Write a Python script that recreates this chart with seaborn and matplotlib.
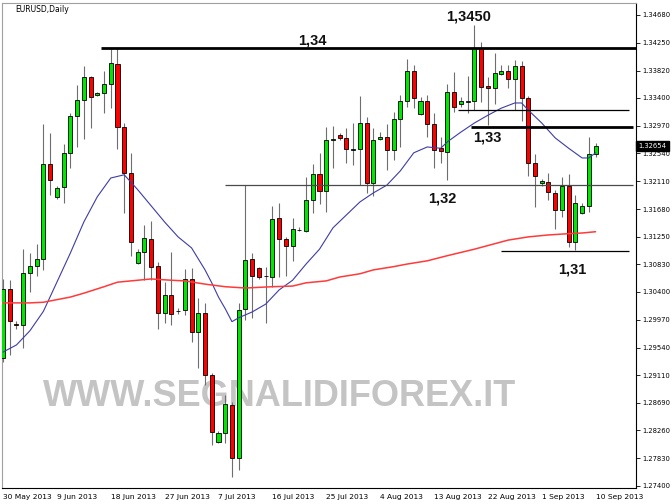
"""
EURUSD Daily candlestick chart, 30 May 2013 - 10 Sep 2013 (MT4 style)
"""
import numpy as np
import pandas as pd
import matplotlib
matplotlib.use('Agg')
import matplotlib.pyplot as plt
import matplotlib.transforms as mtransforms
import seaborn as sns

# Bars: MT4 daily with Sunday bars (no Saturdays)
dates = pd.bdate_range('2013-05-30', '2013-09-10', freq='C',
                       weekmask='Sun Mon Tue Wed Thu Fri')

opens = [1.2938, 1.3045, 1.2990, 1.2989, 1.3069, 1.3080, 1.3091, 1.3238, 1.3187, 1.3202,
         1.3255, 1.3312, 1.3337, 1.3372, 1.3344, 1.3347, 1.3361, 1.3392, 1.3295, 1.3224,
         1.3085, 1.3102, 1.3122, 1.3080, 1.3007, 1.3035, 1.3010, 1.3012, 1.3060, 1.2978,
         1.3007, 1.2912, 1.2808, 1.2822, 1.2865, 1.2783, 1.3014, 1.3091, 1.3077, 1.3064,
         1.3063, 1.3154, 1.3122, 1.3111, 1.3135, 1.3134, 1.3182, 1.3222, 1.3196, 1.3275,
         1.3283, 1.3278, 1.3260, 1.3261, 1.3301, 1.3208, 1.3276, 1.3279, 1.3259, 1.3307,
         1.3335, 1.3381, 1.3315, 1.3335, 1.3300, 1.3262, 1.3256, 1.3349, 1.3330, 1.3334,
         1.3335, 1.3417, 1.3358, 1.3355, 1.3377, 1.3381, 1.3369, 1.3389, 1.3340, 1.3239,
         1.3209, 1.3210, 1.3193, 1.3167, 1.3204, 1.3117, 1.3162, 1.3173, 1.3253]
highs = [1.3060, 1.3058, 1.2995, 1.3106, 1.3100, 1.3114, 1.3300, 1.3286, 1.3204, 1.3269,
         1.3317, 1.3360, 1.3389, 1.3374, 1.3349, 1.3381, 1.3417, 1.3417, 1.3301, 1.3255,
         1.3106, 1.3143, 1.3150, 1.3086, 1.3055, 1.3102, 1.3015, 1.3075, 1.3077, 1.3031,
         1.3023, 1.2915, 1.2825, 1.2881, 1.2870, 1.3023, 1.3205, 1.3100, 1.3079, 1.3079,
         1.3173, 1.3177, 1.3125, 1.3154, 1.3140, 1.3218, 1.3238, 1.3255, 1.3295, 1.3296,
         1.3286, 1.3293, 1.3301, 1.3343, 1.3310, 1.3293, 1.3287, 1.3300, 1.3318, 1.3344,
         1.3400, 1.3391, 1.3341, 1.3344, 1.3317, 1.3279, 1.3361, 1.3380, 1.3341, 1.3374,
         1.3453, 1.3426, 1.3372, 1.3409, 1.3391, 1.3391, 1.3398, 1.3397, 1.3342, 1.3253,
         1.3215, 1.3224, 1.3198, 1.3218, 1.3222, 1.3190, 1.3177, 1.3279, 1.3270]
lows = [1.2932, 1.2942, 1.2983, 1.2953, 1.3040, 1.3065, 1.3074, 1.3190, 1.3184, 1.3177,
        1.3232, 1.3264, 1.3276, 1.3293, 1.3343, 1.3317, 1.3324, 1.3261, 1.3162, 1.3096,
        1.3083, 1.3058, 1.3058, 1.2983, 1.2992, 1.2989, 1.3006, 1.3004, 1.2963, 1.2922,
        1.2896, 1.2803, 1.2806, 1.2806, 1.2754, 1.2765, 1.2997, 1.3000, 1.3060, 1.2992,
        1.3048, 1.3063, 1.3065, 1.3088, 1.3134, 1.3133, 1.3162, 1.3176, 1.3164, 1.3232,
        1.3275, 1.3239, 1.3236, 1.3205, 1.3193, 1.3188, 1.3275, 1.3228, 1.3244, 1.3264,
        1.3326, 1.3324, 1.3313, 1.3279, 1.3232, 1.3239, 1.3213, 1.3318, 1.3326, 1.3317,
        1.3321, 1.3334, 1.3298, 1.3330, 1.3375, 1.3355, 1.3321, 1.3304, 1.3219, 1.3171,
        1.3204, 1.3182, 1.3137, 1.3156, 1.3109, 1.3105, 1.3160, 1.3164, 1.3249]
closes = [1.3045, 1.2995, 1.2989, 1.3069, 1.3080, 1.3091, 1.3238, 1.3213, 1.3201, 1.3255,
          1.3312, 1.3337, 1.3372, 1.3341, 1.3347, 1.3361, 1.3394, 1.3295, 1.3224, 1.3117,
          1.3102, 1.3123, 1.3079, 1.3007, 1.3035, 1.3006, 1.3011, 1.3060, 1.2978, 1.3007,
          1.2912, 1.2823, 1.2822, 1.2867, 1.2783, 1.3012, 1.3089, 1.3065, 1.3063, 1.3065,
          1.3153, 1.3122, 1.3111, 1.3137, 1.3136, 1.3182, 1.3222, 1.3196, 1.3275, 1.3277,
          1.3278, 1.3261, 1.3261, 1.3301, 1.3208, 1.3275, 1.3279, 1.3259, 1.3307, 1.3335,
          1.3381, 1.3340, 1.3335, 1.3300, 1.3259, 1.3258, 1.3349, 1.3326, 1.3335, 1.3335,
          1.3417, 1.3357, 1.3355, 1.3378, 1.3381, 1.3369, 1.3389, 1.3340, 1.3239, 1.3219,
          1.3211, 1.3194, 1.3167, 1.3204, 1.3117, 1.3177, 1.3173, 1.3253, 1.32654]

# moving averages (bar index -> value)
ma_fast_bars = [0, 2, 4, 6, 8, 10, 12, 14, 16, 18, 20, 22, 24, 26, 28, 30, 31, 32, 33, 34,
                35, 37, 39, 41, 43, 45, 47, 49, 51, 53, 55, 57, 59, 61, 63, 65, 66, 68, 70, 72,
                74, 76, 77, 78, 80, 82, 84, 86, 87, 88]
ma_fast = [1.2947, 1.2958, 1.2980, 1.3010, 1.3055, 1.3100, 1.3148, 1.3187, 1.3216, 1.3221,
           1.3198, 1.3173, 1.3148, 1.3125, 1.3108, 1.3074, 1.3054, 1.3032, 1.3014, 1.2994,
           1.3000, 1.3009, 1.3021, 1.3043, 1.3058, 1.3083, 1.3106, 1.3139, 1.3159, 1.3179,
           1.3193, 1.3205, 1.3227, 1.3255, 1.3264, 1.3262, 1.3272, 1.3287, 1.3301, 1.3313,
           1.3324, 1.3332, 1.3332, 1.3321, 1.3301, 1.3278, 1.3262, 1.3247, 1.3247, 1.3255]
ma_slow_bars = [0, 4, 6, 10, 12, 15, 17, 20, 22, 25, 27, 30, 33, 36, 40, 43, 45, 48, 50, 53,
                55, 58, 60, 63, 66, 70, 75, 78, 81, 84, 86, 88]
ma_slow = [1.3023, 1.3023, 1.3024, 1.3032, 1.3038, 1.3048, 1.3055, 1.3058, 1.3060, 1.3058,
           1.3057, 1.3052, 1.3048, 1.3046, 1.3048, 1.3049, 1.3054, 1.3057, 1.3063, 1.3068,
           1.3074, 1.3079, 1.3083, 1.3088, 1.3096, 1.3106, 1.3120, 1.3125, 1.3128, 1.3130,
           1.3131, 1.3133]

# support / resistance lines drawn by hand on the chart
level_prices = [1.3417, 1.3295, 1.3321, 1.3205, 1.3103]
level_start = [14.5, 69.5, 67.5, 33.0, 74.0]
level_end = [94.0, 93.5, 93.0, 93.5, 93.0]
level_width = [2.0, 2.0, 0.9, 0.9, 0.9]
level_color = ['black', 'black', 'black', '#4a4a4a', 'black']

y_ticks = [1.34680, 1.34250, 1.33820, 1.33400, 1.32970, 1.32540, 1.32110, 1.31680,
           1.31250, 1.30830, 1.30400, 1.29970, 1.29540, 1.29110, 1.28690, 1.28260,
           1.27830, 1.27400]

sns.set_style('white')
plt.rcParams['font.family'] = ['DejaVu Sans']

fig = plt.figure(figsize=(6.72, 5.04), dpi=100)
ax = fig.add_axes([2 / 672, 16 / 504, 634 / 672, 485 / 504])

x = np.arange(len(dates))
o = np.array(opens)
c = np.array(closes)
up = c >= o

# wicks
ax.vlines(x, lows, highs, color='#6e6e6e', linewidth=0.8, zorder=2)
# bodies
body_bottom = np.minimum(o, c)
body_height = np.maximum(np.abs(c - o), 0.00002)
ax.bar(x, body_height, bottom=body_bottom, width=0.6,
       color=np.where(up, '#00e600', '#ff0000'), edgecolor='black',
       linewidth=0.6, zorder=3)

# moving averages
sns.lineplot(x=ma_fast_bars, y=ma_fast, ax=ax, color='#3c3ca8', linewidth=0.8,
             zorder=4, sort=False)
sns.lineplot(x=ma_slow_bars, y=ma_slow, ax=ax, color='#ff3a3a', linewidth=1.1,
             zorder=4, sort=False)

# horizontal levels
for p, x0, x1, lw, col in zip(level_prices, level_start, level_end, level_width, level_color):
    ax.plot([x0, x1], [p, p], color=col, linewidth=lw, zorder=5, solid_capstyle='butt')

# level labels
lab = dict(fontsize=10.5, fontweight='bold', family='Liberation Sans',
           color='#111111', ha='center', va='center', zorder=6)
ax.text(46.0, 1.3429, '1,34', **lab)
ax.text(69.2, 1.3466, '1,3450', **lab)
ax.text(71.9, 1.3278, '1,33', **lab)
ax.text(65.3, 1.3184, '1,32', **lab)
ax.text(84.5, 1.3075, '1,31', **lab)

# watermark
ax.text(41.0, 1.2878, 'WWW.SEGNALIDIFOREX.IT', fontsize=26, fontweight='bold',
        family='Liberation Sans', color='#c4c4c4', ha='center', va='center', zorder=1)

ax.set_xlim(-0.15, 94.0)
ax.set_ylim(1.27369, 1.34865)

# axes look
for side in ['left', 'top']:
    ax.spines[side].set_color('#a0a0a0')
    ax.spines[side].set_linewidth(0.8)
for side in ['right', 'bottom']:
    ax.spines[side].set_color('black')
    ax.spines[side].set_linewidth(0.8)

ax.yaxis.tick_right()
ax.set_yticks(y_ticks)
ax.set_yticklabels([f'{v:.5f}' for v in y_ticks])
tick_pos = x[::8]
ax.set_xticks(tick_pos)
ax.set_xticklabels([f'{d.day} {d:%b %Y}' for d in dates[::8]], ha='left')
ax.tick_params(axis='both', which='major', direction='out', length=3, width=0.6,
               colors='black', pad=1.5)
ax.tick_params(axis='x', labelsize=5.4)
ax.tick_params(axis='y', labelsize=4.9, pad=1.2)
ax.set_xlabel('')
ax.set_ylabel('')
ax.grid(False)

# current price box
trans = mtransforms.blended_transform_factory(ax.transAxes, ax.transData)
ax.text(1.004, closes[-1], f'{closes[-1]:.5f}', transform=trans, fontsize=4.9,
        color='white', ha='left', va='center', zorder=10, clip_on=False,
        bbox=dict(boxstyle='square,pad=0.3', facecolor='black', edgecolor='black'))

fig.text(15 / 672, 1 - 9 / 504, 'EURUSD,Daily', fontsize=5.5, color='black',
         ha='left', va='center')

plt.savefig('out.png', dpi=100)
plt.close()
